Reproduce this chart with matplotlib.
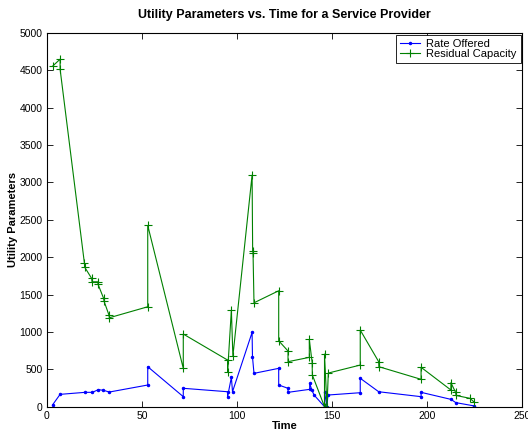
import matplotlib
matplotlib.use("Agg")
import matplotlib.pyplot as plt

plt.rcParams["font.family"] = ["Liberation Sans", "DejaVu Sans"]

# Rate Offered (blue)
rate_t = [2.9, 6.9, 20.0, 23.9, 27.0, 29.7, 32.8, 53.0, 53.0, 71.7, 71.7,
          95.0, 95.0, 97.0, 97.6, 107.9, 108.1, 108.9, 121.9, 121.9, 126.8,
          126.8, 138.2, 138.2, 139.4, 140.5, 146.0, 146.0, 147.3, 147.8,
          164.8, 164.8, 174.5, 196.8, 196.8, 212.5, 215.1, 224.8]
rate_v = [23, 165, 192, 192, 228, 219, 196, 290, 535, 134, 246,
          200, 134, 393, 200, 994, 668, 446, 513, 290, 246,
          192, 232, 312, 218, 156, 0, 200, 0, 156,
          187, 380, 200, 134, 192, 98, 54, 10]

# Residual Capacity (green)
cap_t = [2.9, 6.9, 6.9, 19.7, 19.9, 23.5, 23.7, 26.7, 26.9, 29.8, 30.0,
         32.6, 32.8, 53.0, 53.0, 71.7, 71.7, 95.0, 95.0, 97.0, 97.8,
         107.9, 108.2, 108.4, 108.9, 121.9, 121.9, 126.8, 126.8, 138.0,
         138.0, 139.5, 139.6, 146.0, 146.0, 147.3, 148.0, 164.8, 164.8,
         174.5, 174.6, 196.8, 196.8, 212.5, 212.5, 215.0, 215.2, 222.5, 224.8]
cap_v = [4555, 4650, 4515, 1917, 1864, 1716, 1671, 1671, 1635, 1449, 1413,
         1226, 1190, 1337, 2425, 513, 972, 624, 460, 1293, 678,
         3098, 2086, 2060, 1390, 1551, 882, 745, 602, 660,
         901, 588, 424, 0, 704, 0, 450, 557, 1025,
         602, 535, 366, 527, 223, 321, 190, 150, 112, 60]

fig = plt.figure(figsize=(5.28, 4.32), dpi=100)
ax = fig.add_axes([0.089, 0.0586, 0.9, 0.865])

ax.plot(rate_t, rate_v, color="#0000ff", lw=0.8, marker=".", ms=3,
        label="Rate Offered")
ax.plot(cap_t, cap_v, color="#008000", lw=0.8, marker="+", ms=6, mew=0.8,
        label="Residual Capacity")

ax.set_xlim(0, 250)
ax.set_ylim(0, 5000)
ax.set_xticks(range(0, 251, 50))
ax.set_yticks(range(0, 5001, 500))
ax.tick_params(direction="in", top=True, right=True, labelsize=7.5, length=4,
               width=0.6)
ax.tick_params(axis="x", pad=3)
ax.tick_params(axis="y", pad=3)
for s in ax.spines.values():
    s.set_linewidth(0.8)

ax.set_xlabel("Time", fontsize=8, fontweight="bold", labelpad=0)
ax.set_ylabel("Utility Parameters", fontsize=8, fontweight="bold", labelpad=1)
ax.set_title("Utility Parameters vs. Time for a Service Provider",
             fontsize=9, fontweight="bold", pad=11)

leg = ax.legend(loc="upper right", fontsize=8, fancybox=False, framealpha=1,
                edgecolor="black", handlelength=1.8, handletextpad=0.6,
                borderpad=0.35, labelspacing=0.05, borderaxespad=0.15,
                numpoints=1)
leg.get_frame().set_linewidth(0.6)

fig.savefig("out.png", dpi=100)
